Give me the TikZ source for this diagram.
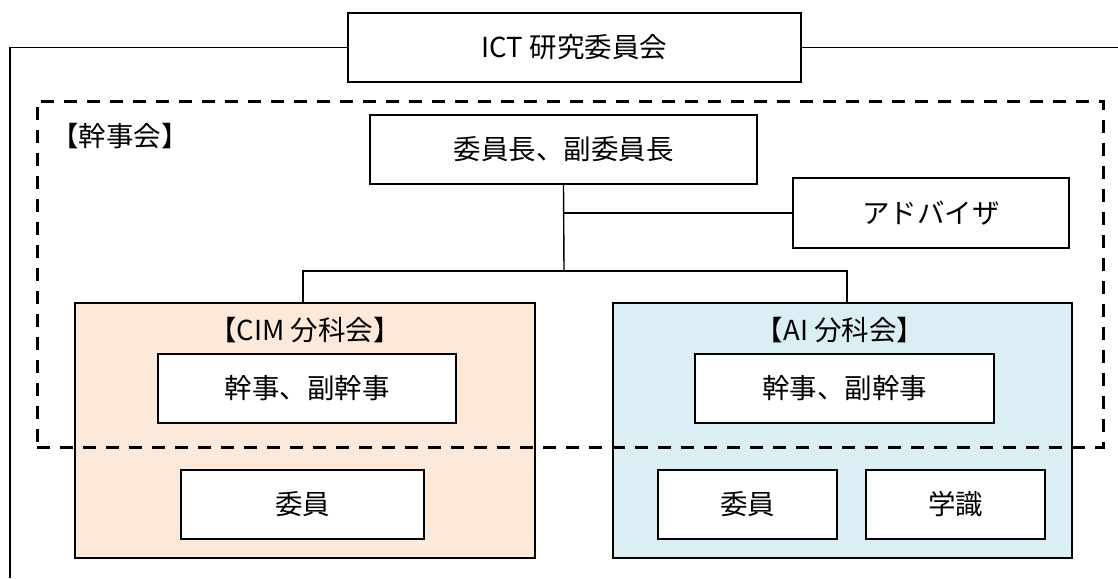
\documentclass[tikz,border=0pt]{standalone}
\usepackage{fontspec}
\setmainfont{Noto Sans CJK JP}
\definecolor{peach}{HTML}{FDE9D9}
\definecolor{aqua}{HTML}{DAEEF3}
\begin{document}
\begin{tikzpicture}[x=1pt,y=-1pt,
  box/.style={draw=black,line width=1.4pt,fill=white,inner sep=0pt,font=\fontsize{27.5}{32}\selectfont},
  grp/.style={draw=black,line width=1.4pt,inner sep=0pt},
  lbl/.style={inner sep=0pt,font=\fontsize{27.5}{32}\selectfont},
  conn/.style={line width=1.4pt},
  dashframe/.style={draw=black,line width=3pt,dash pattern=on 13pt off 10pt,inner sep=0pt}]
\useasboundingbox (0,0) rectangle (1118,578);
% outer frame
\coordinate (ol) at (10,578);
\coordinate (orr) at (1118,50);
\node[box,minimum width=453pt,minimum height=69pt] (ict) at (574.5,47.5) {ICT 研究委員会};
\draw[conn] (ict.west) -| (ol);
\draw[conn] (ict.east) -- (ict.east -| orr);
% subcommittee groups
\node[grp,fill=peach,minimum width=460pt,minimum height=255pt] (cim) at (305,430.5) {};
\node[grp,fill=aqua,minimum width=459pt,minimum height=255pt] (ai) at (842.5,430.5) {};
\node[lbl] (cimlbl) at (305,330) {【CIM 分科会】};
\node[lbl] (ailbl) at (840,330) {【AI 分科会】};
\node[box,minimum width=298pt,minimum height=69pt] (cimk) at (307,388.5) {幹事、副幹事};
\node[box,minimum width=299pt,minimum height=69pt] (aik) at (844.5,388.5) {幹事、副幹事};
\node[box,minimum width=243pt,minimum height=69pt] (cimm) at (302.5,504.5) {委員};
\node[box,minimum width=179pt,minimum height=69pt] (aim) at (747.5,504.5) {委員};
\node[box,minimum width=179pt,minimum height=69pt] (aig) at (955.5,504.5) {学識};
% top
\node[box,minimum width=387pt,minimum height=69pt] (chair) at (563.5,149.5) {委員長、副委員長};
\node[box,minimum width=276pt,minimum height=70pt] (adv) at (931,213) {アドバイザ};
\coordinate (j) at (564,271);
\draw[conn] (chair.south) -- (j);
\draw[conn] (chair.south |- adv.west) -- (adv.west);
\draw[conn] ([xshift=-2pt]cim.north) |- (j) -| ([xshift=4.5pt]ai.north);
% dashed frame
\node[dashframe,minimum width=1066pt,minimum height=346pt] (kframe) at (570,274) {};
\node[lbl] (klbl) at (120,136) {【幹事会】};
\end{tikzpicture}
\end{document}
